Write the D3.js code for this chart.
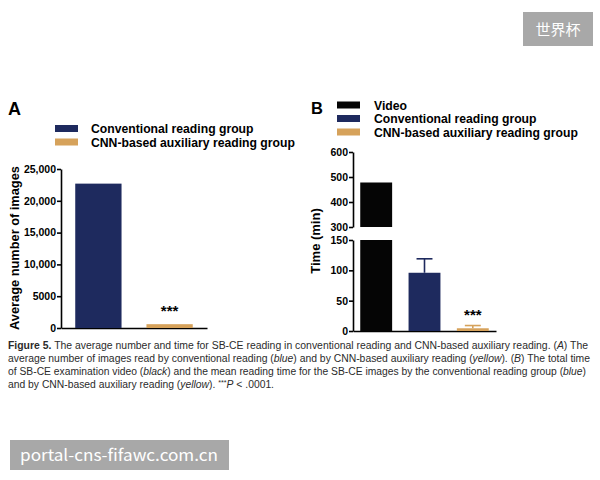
<!DOCTYPE html>
<html lang="en">
  <head>
    <meta charset="utf-8">
    <title>Figure 5</title>
    <script src="https://d3js.org/d3.v7.min.js"></script>
    <style>
      body { margin: 0; background: #fff; }
      svg text { font-family: "Liberation Sans", Arial, Helvetica, sans-serif; }
    </style>
  </head>
  <body>
  <div id="main"></div>
<script>

// data
var groupsA = ["Conventional reading group", "CNN-based auxiliary reading group"];
var imagesA = [22700, 600];
var ticksA = [0, 5000, 10000, 15000, 20000, 25000];

var groupsB = ["Video", "Conventional reading group", "CNN-based auxiliary reading group"];
var timeB = [478, 96, 4.5];
var timeErrB = [0, 23, 4.5];
var ticksBLow = [0, 50, 100, 150];
var ticksBHigh = [300, 400, 500, 600];

var colors = {
  "Video": "#050505",
  "Conventional reading group": "#1e2a5e",
  "CNN-based auxiliary reading group": "#d6a25b"
};

var caption = [
  [["Figure 5.", "b"], [" The average number and time for SB-CE reading in conventional reading and CNN-based auxiliary reading. ("], ["A", "i"], [") The"]],
  [["average number of images read by conventional reading ("], ["blue", "i"], [") and by CNN-based auxiliary reading ("], ["yellow", "i"], ["). ("], ["B", "i"], [") The total time"]],
  [["of SB-CE examination video ("], ["black", "i"], [") and the mean reading time for the SB-CE images by the conventional reading group ("], ["blue", "i"], [")"]],
  [["and by CNN-based auxiliary reading ("], ["yellow", "i"], ["). "], ["***", "s"], ["P", "i"], [" < .0001."]]
];
var captionWidths = [580, 582, 578, 266];

var width = 600, height = 480;

var svg = d3.select("#main")
  .append("svg")
    .attr("width", width)
    .attr("height", height);

// ---------- panel A ----------
var xA = d3.scaleBand()
    .domain(groupsA)
    .range([61, 207])
    .paddingInner(0.35)
    .paddingOuter(0.2);

var yA = d3.scaleLinear()
    .domain([0, 25000])
    .range([328, 169]);

svg.append("g")
    .attr("class", "axis")
    .attr("transform", "translate(61,0)")
    .call(d3.axisLeft(yA)
            .tickValues(ticksA)
            .tickSize(4)
            .tickSizeOuter(0)
            .tickFormat(function(d) { return d >= 10000 ? d3.format(",")(d) : d; }));

svg.append("g")
    .attr("class", "axis xaxis")
    .attr("transform", "translate(0,328)")
    .call(d3.axisBottom(xA).tickSize(0).tickSizeOuter(0).tickFormat(""));

svg.selectAll("rect.barA")
    .data(groupsA)
    .enter()
    .append("rect")
      .attr("class", "barA")
      .attr("x", function(d) { return xA(d); })
      .attr("width", xA.bandwidth())
      .attr("y", function(d, i) { return yA(imagesA[i]); })
      .attr("height", function(d, i) { return yA(0) - yA(imagesA[i]); })
      .style("fill", function(d) { return colors[d]; });

svg.append("text")
    .attr("x", xA(groupsA[1]) + xA.bandwidth() / 2)
    .attr("y", yA(imagesA[1]) - 8)
    .attr("text-anchor", "middle")
    .style("font-size", "15px")
    .style("font-weight", "bold")
    .text("***");

svg.append("text")
    .attr("transform", "translate(19,248) rotate(-90)")
    .attr("text-anchor", "middle")
    .style("font-size", "12.8px")
    .style("font-weight", "bold")
    .text("Average number of images");

svg.append("text")
    .attr("x", 8)
    .attr("y", 115)
    .style("font-size", "18px")
    .style("font-weight", "bold")
    .text("A");

// legend A
var legA = svg.selectAll("g.legA")
    .data(groupsA)
    .enter()
    .append("g")
      .attr("class", "legA")
      .attr("transform", function(d, i) { return "translate(55," + (133 + i * 13.5) + ")"; });
legA.append("rect")
    .attr("x", 0).attr("y", -8).attr("width", 23).attr("height", 7)
    .style("fill", function(d) { return colors[d]; });
legA.append("text")
    .attr("x", 36)
    .style("font-size", "12.2px")
    .style("font-weight", "bold")
    .text(function(d) { return d; });

// ---------- panel B (broken axis) ----------
var xB = d3.scaleBand()
    .domain(groupsB)
    .range([353, 496])
    .paddingInner(0.34)
    .paddingOuter(0.15);

var yLow = d3.scaleLinear().domain([0, 150]).range([331, 240]);
var yHigh = d3.scaleLinear().domain([300, 600]).range([227, 152]);

svg.append("g")
    .attr("class", "axis")
    .attr("transform", "translate(353,0)")
    .call(d3.axisLeft(yLow).tickValues(ticksBLow).tickSize(4).tickSizeOuter(0));
svg.append("g")
    .attr("class", "axis")
    .attr("transform", "translate(353,0)")
    .call(d3.axisLeft(yHigh).tickValues(ticksBHigh).tickSize(4).tickSizeOuter(0));

svg.append("g")
    .attr("class", "axis xaxis")
    .attr("transform", "translate(0,331)")
    .call(d3.axisBottom(xB).tickSize(0).tickSizeOuter(0).tickFormat(""));

// lower segment: clip values at 150
svg.selectAll("rect.barLow")
    .data(groupsB)
    .enter()
    .append("rect")
      .attr("class", "barLow")
      .attr("x", function(d) { return xB(d); })
      .attr("width", xB.bandwidth())
      .attr("y", function(d, i) { return yLow(Math.min(timeB[i], 150)); })
      .attr("height", function(d, i) { return yLow(0) - yLow(Math.min(timeB[i], 150)); })
      .style("fill", function(d) { return colors[d]; });

// upper segment for values above 300
svg.selectAll("rect.barHigh")
    .data(groupsB.filter(function(d, i) { return timeB[i] > 300; }))
    .enter()
    .append("rect")
      .attr("class", "barHigh")
      .attr("x", function(d) { return xB(d); })
      .attr("width", xB.bandwidth())
      .attr("y", function(d) { return yHigh(timeB[groupsB.indexOf(d)]); })
      .attr("height", function(d) { return yHigh(300) - yHigh(timeB[groupsB.indexOf(d)]); })
      .style("fill", function(d) { return colors[d]; });

// error bars (upper half only)
var errs = svg.selectAll("g.err")
    .data(groupsB.filter(function(d, i) { return timeErrB[i] > 0; }))
    .enter()
    .append("g")
      .attr("class", "err")
      .style("stroke", function(d) { return colors[d]; })
      .style("stroke-width", 1.6);
errs.append("line")
    .attr("x1", function(d) { return xB(d) + xB.bandwidth() / 2; })
    .attr("x2", function(d) { return xB(d) + xB.bandwidth() / 2; })
    .attr("y1", function(d) { var i = groupsB.indexOf(d); return yLow(timeB[i]); })
    .attr("y2", function(d) { var i = groupsB.indexOf(d); return yLow(timeB[i] + timeErrB[i]); });
errs.append("line")
    .attr("x1", function(d) { return xB(d) + xB.bandwidth() / 4; })
    .attr("x2", function(d) { return xB(d) + xB.bandwidth() * 3 / 4; })
    .attr("y1", function(d) { var i = groupsB.indexOf(d); return yLow(timeB[i] + timeErrB[i]); })
    .attr("y2", function(d) { var i = groupsB.indexOf(d); return yLow(timeB[i] + timeErrB[i]); });

svg.append("text")
    .attr("x", xB(groupsB[2]) + xB.bandwidth() / 2)
    .attr("y", yLow(timeB[2] + timeErrB[2]) - 6)
    .attr("text-anchor", "middle")
    .style("font-size", "15px")
    .style("font-weight", "bold")
    .text("***");

svg.append("text")
    .attr("transform", "translate(320,241) rotate(-90)")
    .attr("text-anchor", "middle")
    .style("font-size", "13px")
    .style("font-weight", "bold")
    .text("Time (min)");

svg.append("text")
    .attr("x", 311)
    .attr("y", 113.5)
    .style("font-size", "16.5px")
    .style("font-weight", "bold")
    .text("B");

var legB = svg.selectAll("g.legB")
    .data(groupsB)
    .enter()
    .append("g")
      .attr("class", "legB")
      .attr("transform", function(d, i) { return "translate(337," + (109.5 + i * 13.5) + ")"; });
legB.append("rect")
    .attr("x", 0).attr("y", -8).attr("width", 23).attr("height", 7)
    .style("fill", function(d) { return colors[d]; });
legB.append("text")
    .attr("x", 37)
    .style("font-size", "12.2px")
    .style("font-weight", "bold")
    .text(function(d) { return d; });

// axis styling
svg.selectAll(".axis path, .axis line")
    .style("stroke", "#000")
    .style("stroke-width", 1.6);
svg.selectAll(".axis text")
    .style("font-size", "10.5px")
    .style("font-weight", "bold")
    .style("fill", "#000");
svg.selectAll(".axis .tick text").attr("x", -5);

// ---------- caption ----------
var cap = svg.selectAll("text.cap")
    .data(caption)
    .enter()
    .append("text")
      .attr("class", "cap")
      .attr("x", 8)
      .attr("y", function(d, i) { return 348.5 + i * 13; })
      .attr("textLength", function(d, i) { return captionWidths[i]; })
      .attr("lengthAdjust", "spacingAndGlyphs")
      .style("font-size", "10px")
      .style("fill", "#2b2b2b");
cap.selectAll("tspan")
    .data(function(d) { return d; })
    .enter()
    .append("tspan")
      .style("font-weight", function(d) { return d[1] === "b" ? "bold" : null; })
      .style("font-style", function(d) { return d[1] === "i" ? "italic" : null; })
      .style("font-size", function(d) { return d[1] === "s" ? "7px" : null; })
      .attr("baseline-shift", function(d) { return d[1] === "s" ? "super" : null; })
      .text(function(d) { return d[0]; });

// ---------- watermarks ----------
svg.append("rect")
    .attr("x", 523).attr("y", 12).attr("width", 70).attr("height", 34)
    .style("fill", "#a8a8a8");
svg.append("text")
    .attr("x", 558).attr("y", 35)
    .attr("text-anchor", "middle")
    .style("font-family", "'Noto Sans CJK SC', sans-serif")
    .style("font-size", "15px")
    .style("fill", "#fff")
    .text("世界杯");

svg.append("rect")
    .attr("x", 10).attr("y", 440).attr("width", 219).attr("height", 30)
    .style("fill", "#a8a8a8");
svg.append("text")
    .attr("x", 20).attr("y", 461)
    .attr("textLength", 198)
    .attr("lengthAdjust", "spacingAndGlyphs")
    .style("font-family", "'Noto Sans CJK SC', sans-serif")
    .style("font-size", "16px")
    .style("fill", "#fff")
    .text("portal-cns-fifawc.com.cn");

</script>
  </body>
</html>
